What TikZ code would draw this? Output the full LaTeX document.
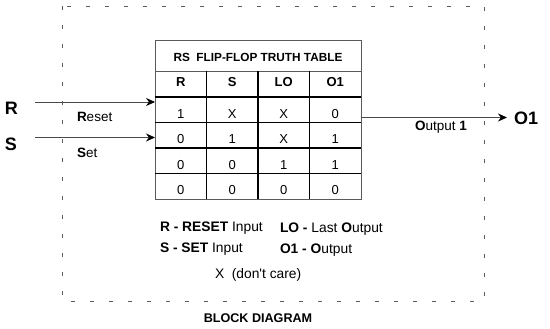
\documentclass[tikz,border=0pt]{standalone}
\usepackage{fontspec}
\setmainfont{Liberation Sans}[Ligatures=TeXOff]
\usetikzlibrary{arrows.meta}
\definecolor{framegray}{HTML}{5C5C5C}
\definecolor{rimgray}{HTML}{5A5A5A}
\definecolor{wiregray}{HTML}{4A4A4A}

\begin{document}
\begin{tikzpicture}[
  x=1pt,
  y=-1pt,
  every node/.style={inner sep=0pt, outer sep=0pt, text=black},
  frame/.style={framegray, line width=0.9pt, dash pattern=on 4pt off 15pt},
  rim/.style={rimgray, line width=0.9pt},
  rule/.style={black, line width=1.9pt},
  wire/.style={wiregray, line width=0.8pt,
               -{Stealth[length=9pt, width=8pt, inset=3pt, black]}},
  pinlabel/.style={font=\bfseries\fontsize{18}{21}\selectfont, anchor=base west},
  siglabel/.style={font=\fontsize{13.5}{16}\selectfont, anchor=base west},
  tabtitle/.style={font=\bfseries\fontsize{11.8}{14}\selectfont, anchor=base},
  headcell/.style={font=\bfseries\fontsize{13}{15}\selectfont, anchor=base},
  valcell/.style={font=\fontsize{13}{15}\selectfont, anchor=base},
  legend/.style={font=\fontsize{13.8}{17}\selectfont, anchor=base west}
]
  \useasboundingbox (0,0) rectangle (550,329);

  % ---- block diagram frame ----
  \draw[frame] (62,6) rectangle (484,301);

  % ---- truth table ----
  \coordinate (tab-nw) at (155,40);
  \coordinate (tab-se) at (361,199);
  \draw[rim] (tab-nw) rectangle (tab-se);
  \draw[rim] (155,71.5) -- (361,71.5);
  \draw[rule] (155,97) -- (361,97);
  \foreach \y in {122.5,148,173.5}
    \draw[rule] (155,\y) -- (361,\y);
  \foreach \x in {206.5,258,309.5}
    \draw[rule] (\x,71.5) -- (\x,199);

  \node[tabtitle] (tab-title) at (258,61.5) {RS\ \ FLIP-FLOP TRUTH TABLE};
  \foreach \h [count=\c] in {R,S,LO,O1}
    \node[headcell] (head-\c) at ({155+51.5*(\c-0.5)},87) {\h};
  \foreach \row [count=\r] in {{1,X,X,0},{0,1,X,1},{0,0,1,1},{0,0,0,0}}
    \foreach \v [count=\c] in \row
      \node[valcell] (cell-\r-\c) at ({155+51.5*(\c-0.5)},{93+25.5*\r}) {\v};

  % ---- inputs ----
  \node[pinlabel] (pin-r) at (5,114.5) {R};
  \node[pinlabel] (pin-s) at (5,150) {S};
  \coordinate (r-start) at (35,102);
  \coordinate (r-end)   at (155,102);
  \coordinate (s-start) at (35,137.5);
  \coordinate (s-end)   at (155,137.5);
  \draw[wire] (r-start) -- (r-end);
  \draw[wire] (s-start) -- (s-end);
  \node[siglabel] (lbl-reset) at (77,121.5) {\textbf{R}eset};
  \node[siglabel] (lbl-set)   at (77,158) {\textbf{S}et};

  % ---- output ----
  \coordinate (o-start) at (361,117.5);
  \coordinate (o-end)   at (507,117.5);
  \draw[wire] (o-start) -- (o-end);
  \node[pinlabel] (pin-o) at (514,124.5) {O1};
  \node[siglabel] (lbl-out) at (415,131) {\textbf{O}utput \textbf{1}};

  % ---- legend ----
  \node[legend] (key-r)  at (160,231.5) {\textbf{R - RESET} Input};
  \node[legend] (key-s)  at (160,252.5) {\textbf{S - SET} Input};
  \node[legend] (key-lo) at (280,233) {\textbf{LO -} Last \textbf{O}utput};
  \node[legend] (key-o1) at (280,253) {\textbf{O1 - O}utput};
  \node[legend] (key-x)  at (215,278) {X\ \ (don't care)};

  \node[font=\bfseries\fontsize{12.6}{15}\selectfont, anchor=base] (caption)
    at (258,322.5) {BLOCK DIAGRAM};
\end{tikzpicture}
\end{document}
